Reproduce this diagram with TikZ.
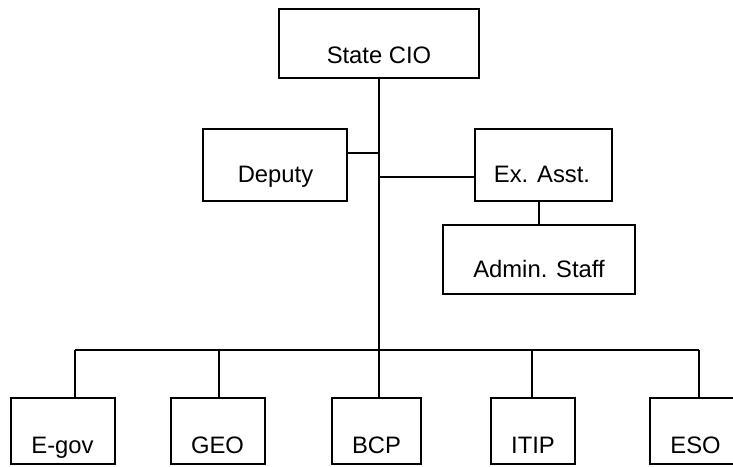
\documentclass[tikz,border=0pt]{standalone}
\usepackage{fontspec}
\setmainfont{Liberation Sans}
\begin{document}
\begin{tikzpicture}[x=1pt,y=-1pt,
  line width=1.2pt,
  box/.style={draw=black, rectangle, inner sep=0pt},
  lbl/.style={anchor=base, inner sep=0pt, font=\fontsize{23.8}{28}\selectfont},
  wire/.style={draw=black, line width=1.2pt}]
\clip (0,0) rectangle (733,466);
\fill[white] (0,0) rectangle (733,466);

% boxes (given by corners)
\node[box, minimum width=200pt, minimum height=69pt] (cio) at (379,43.5) {};
\node[box, minimum width=144pt, minimum height=72pt] (dep) at (275,165) {};
\node[box, minimum width=137pt, minimum height=72pt] (exa) at (543.5,165) {};
\node[box, minimum width=192pt, minimum height=69pt] (adm) at (539,259.5) {};
\node[box, minimum width=104pt, minimum height=66pt] (egov) at (63,431) {};
\node[box, minimum width=94pt, minimum height=66pt] (geo) at (218,431) {};
\node[box, minimum width=89pt, minimum height=66pt] (bcp) at (376.5,431) {};
\node[box, minimum width=84pt, minimum height=66pt] (itip) at (533,431) {};
\node[box, minimum width=96pt, minimum height=66pt] (eso) at (698,431) {};

% labels
\node[lbl] (cioT) at (379,63) {State CIO};
\node[lbl] (depT) at (275.5,182) {Deputy};
\node[lbl] (exaT) at (542,182) {Ex. Asst.};
\node[lbl] (admT) at (539,277) {Admin. Staff};
\node[lbl] (egovT) at (62.5,453) {E-gov};
\node[lbl] (geoT) at (217.5,453) {GEO};
\node[lbl] (bcpT) at (376.5,453) {BCP};
\node[lbl] (itipT) at (533,453) {ITIP};
\node[lbl] (esoT) at (695.5,453) {ESO};

% junction points on the trunk and the bus
\coordinate (jdep) at (379,153);
\coordinate (jexa) at (379,177);
\coordinate (busL) at (75,350);
\coordinate (busR) at (699,350);
\coordinate (dgeo) at (219,350);
\coordinate (ditip) at (532,350);

% trunk
\draw[wire] (cio.south) -- (cio.south |- bcp.north);
% staff branches
\draw[wire] (jdep) -- (dep.east |- jdep);
\draw[wire] (jexa) -- (exa.west |- jexa);
\draw[wire] (adm.north) -- (adm.north |- exa.south);
% division bus and drops
\draw[wire] (busL) -- (busR);
\draw[wire] (busL) -- (busL |- egov.north);
\draw[wire] (dgeo) -- (dgeo |- geo.north);
\draw[wire] (ditip) -- (ditip |- itip.north);
\draw[wire] (busR) -- (busR |- eso.north);
\end{tikzpicture}
\end{document}
